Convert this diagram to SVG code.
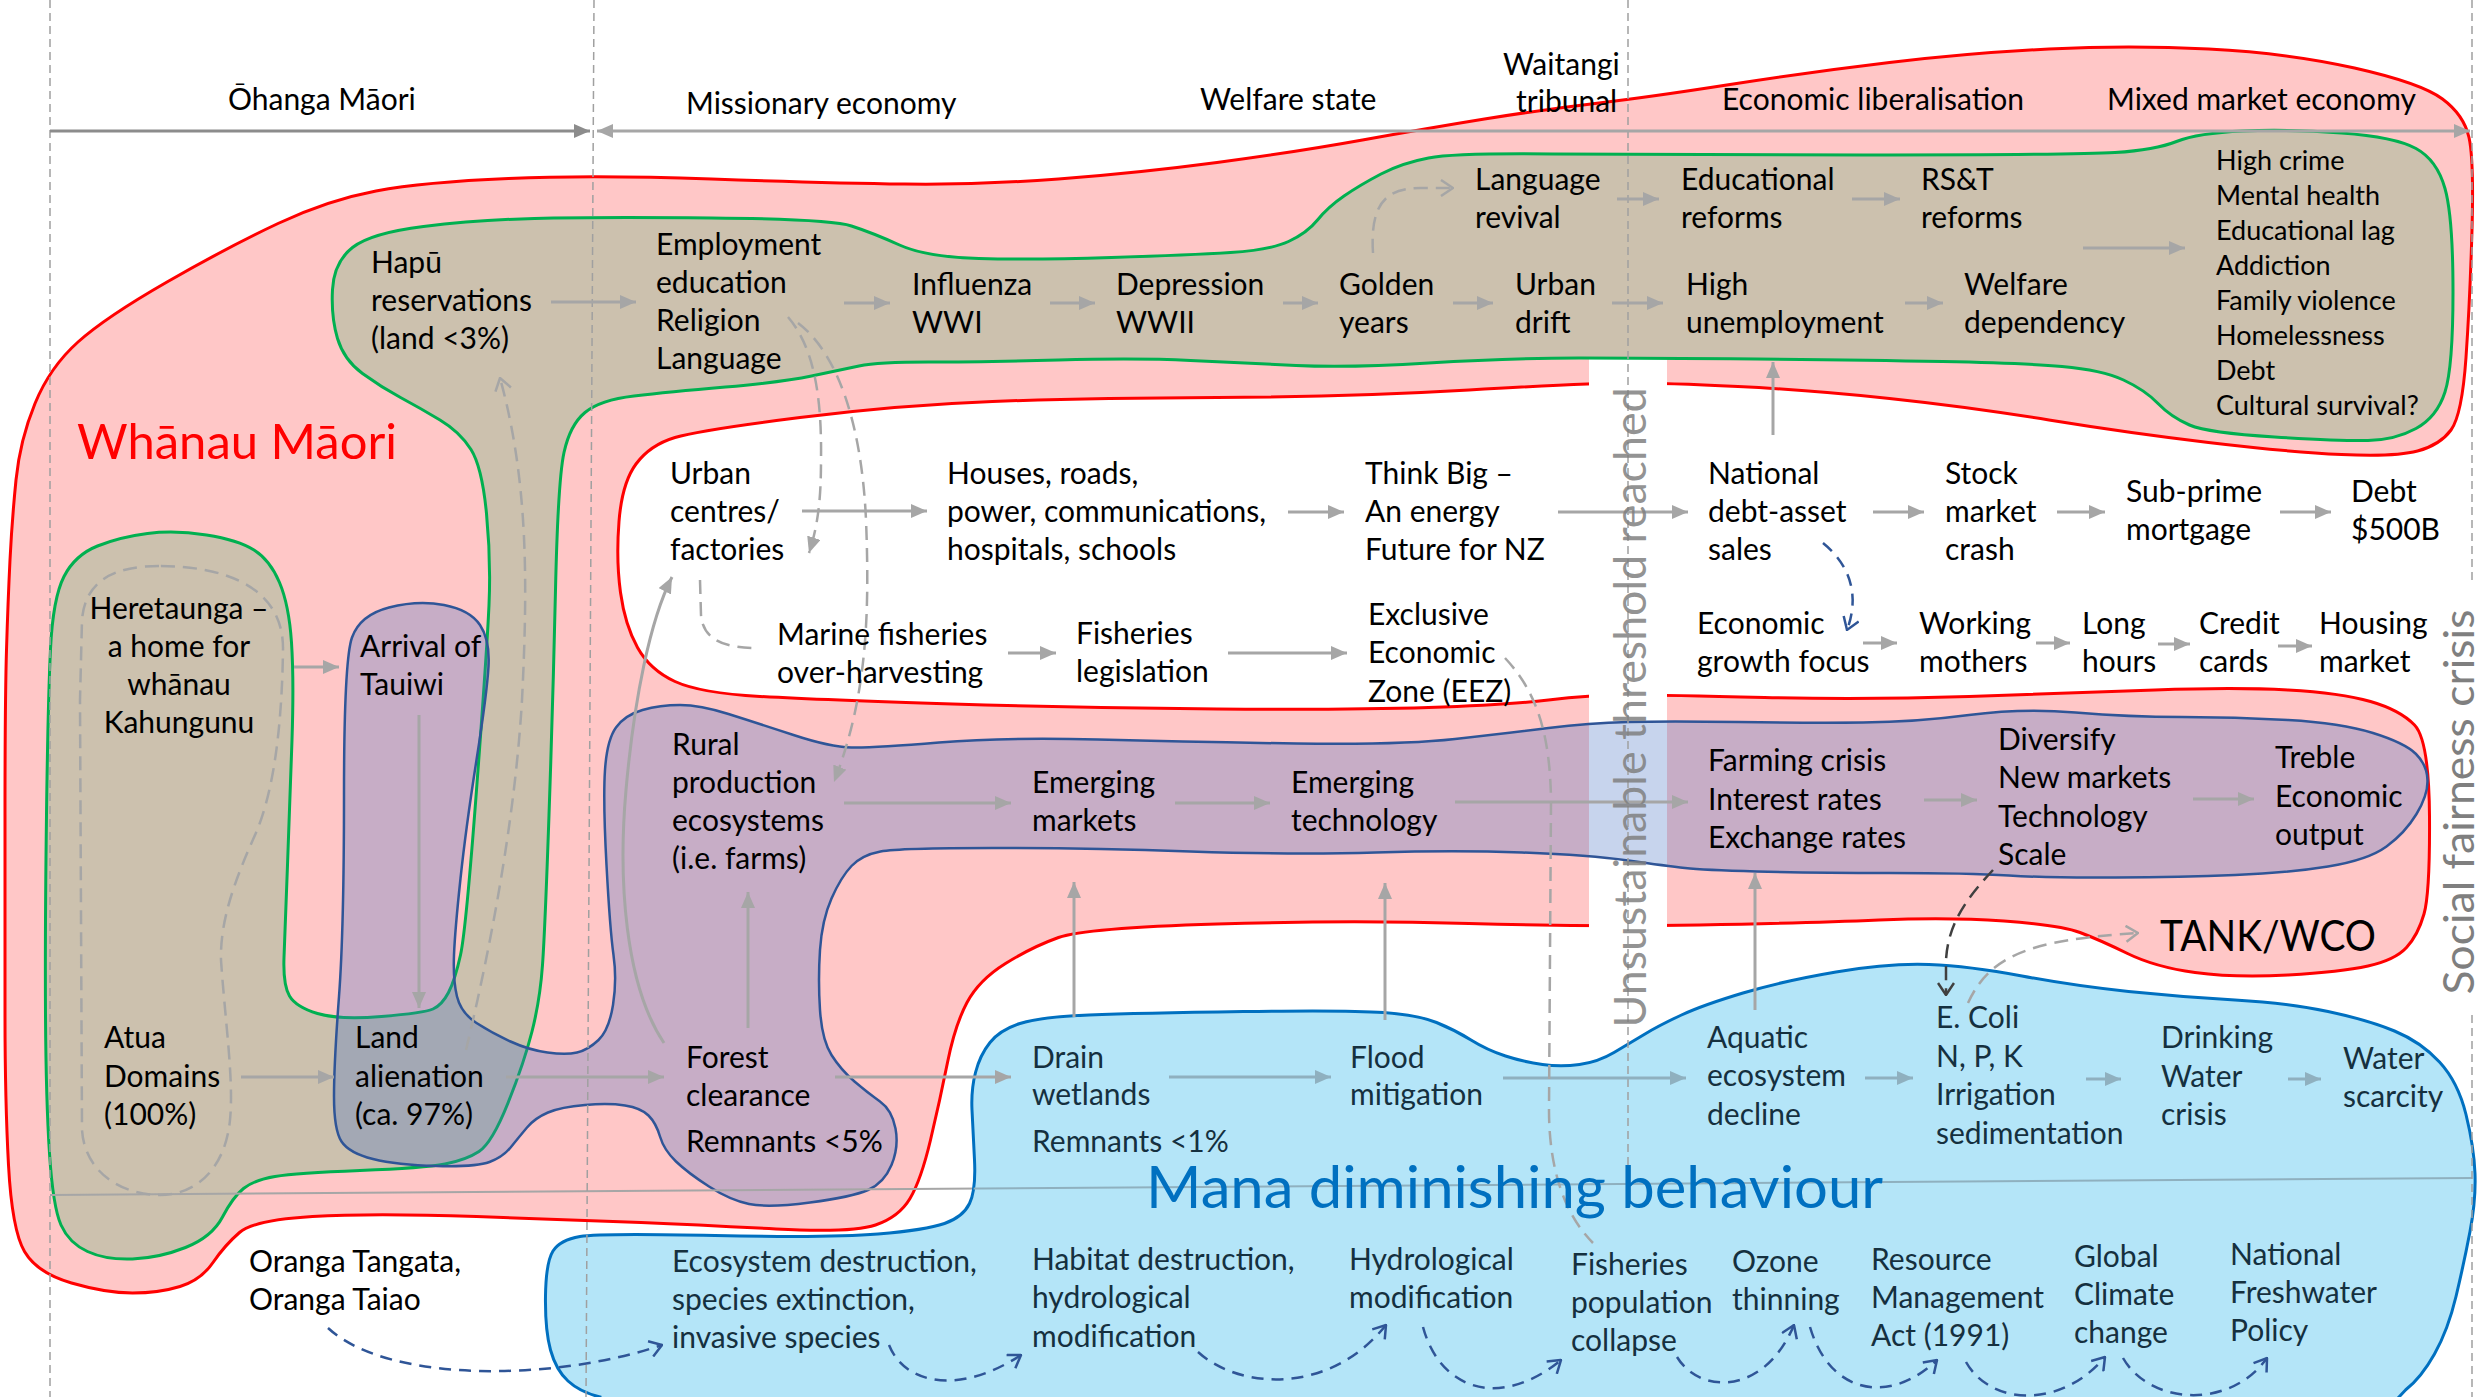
<svg xmlns="http://www.w3.org/2000/svg" width="2484" height="1397" viewBox="0 0 2484 1397">
<defs>
<style>
.t{font-family:Lato,'Open Sans','DejaVu Sans',sans-serif;font-size:30px;fill:#000}
.nv{fill:#15303f}
.sm{font-size:27px}
.ar{stroke:#a6a6a6;stroke-width:3;fill:none;marker-end:url(#ah)}
.arb{stroke:#8fb0bf;stroke-width:3;fill:none;marker-end:url(#ahb)}
.dg{stroke:#a6a6a6;stroke-width:2.5;fill:none;stroke-dasharray:14 8}
.db{stroke:#2f5597;stroke-width:2.5;fill:none;stroke-dasharray:12 8;marker-end:url(#vb)}
.vd{stroke:#a0a0a0;stroke-width:1.5;stroke-dasharray:8 5;fill:none}
</style>
<marker id="ah" viewBox="0 0 16 14" refX="16" refY="7" markerWidth="16" markerHeight="14" markerUnits="userSpaceOnUse" orient="auto"><path d="M0,0L16,7L0,14z" fill="#a6a6a6"/></marker>
<marker id="ahb" viewBox="0 0 16 14" refX="16" refY="7" markerWidth="16" markerHeight="14" markerUnits="userSpaceOnUse" orient="auto"><path d="M0,0L16,7L0,14z" fill="#8fb0bf"/></marker>
<marker id="ahd" viewBox="0 0 16 14" refX="16" refY="7" markerWidth="16" markerHeight="14" markerUnits="userSpaceOnUse" orient="auto"><path d="M0,0L16,7L0,14z" fill="#8c8c8c"/></marker>
<marker id="ahs" viewBox="0 0 16 14" refX="16" refY="7" markerWidth="16" markerHeight="14" markerUnits="userSpaceOnUse" orient="auto-start-reverse"><path d="M0,0L16,7L0,14z" fill="#a6a6a6"/></marker>
<marker id="vg" viewBox="0 0 14 18" refX="13" refY="9" markerWidth="14" markerHeight="18" markerUnits="userSpaceOnUse" orient="auto"><path d="M1,1L13,9L1,17" fill="none" stroke="#a6a6a6" stroke-width="2.5"/></marker>
<marker id="vb" viewBox="0 0 14 18" refX="13" refY="9" markerWidth="14" markerHeight="18" markerUnits="userSpaceOnUse" orient="auto"><path d="M1,1L13,9L1,17" fill="none" stroke="#2f5597" stroke-width="2.5"/></marker>
<marker id="vk" viewBox="0 0 14 18" refX="13" refY="9" markerWidth="14" markerHeight="18" markerUnits="userSpaceOnUse" orient="auto"><path d="M1,1L13,9L1,17" fill="none" stroke="#404040" stroke-width="2.5"/></marker>
<path id="bp" d="M600,1397 Q580,1392 568,1381 Q556,1370 550.5,1350 Q545,1330 545.5,1296 Q546,1262 553,1251 Q560,1240 580,1236.5 Q600,1233 715,1235.5 Q830,1238 878,1234 Q926,1230 944.5,1223.5 Q963,1217 969.5,1203.5 Q976,1190 974.5,1160 Q973,1130 972,1110 Q971,1090 975.5,1072.5 Q980,1055 990,1042.5 Q1000,1030 1020,1023.5 Q1040,1017 1089,1015 Q1138,1013 1243.5,1011.5 Q1349,1010 1383.5,1012.5 Q1418,1015 1436.5,1022.5 Q1455,1030 1471,1040 Q1487,1050 1505.5,1056 Q1524,1062 1542.5,1064.5 Q1561,1067 1579.5,1064.5 Q1598,1062 1614,1052.5 Q1630,1043 1645,1034 Q1660,1025 1681.5,1015 Q1703,1005 1743,993 Q1783,981 1836,972 Q1889,963 1929,964.5 Q1969,966 2022,976 Q2075,986 2128.5,991.5 Q2182,997 2235,1000 Q2288,1003 2328,1011.5 Q2368,1020 2394.5,1031 Q2421,1042 2439.5,1062 Q2458,1082 2466,1114.5 Q2474,1147 2475,1173.5 Q2476,1200 2470,1231.5 Q2464,1263 2456,1296.5 Q2448,1330 2434.5,1354 Q2421,1378 2405.5,1390 L2385,1412 L600,1412 Z"/>
<clipPath id="bclip"><use href="#bp"/></clipPath>
</defs>
<rect width="2484" height="1397" fill="#fff"/>

<g id="whanau-maori-region">
<path fill="#ffc7c7" stroke="#ff0000" stroke-width="3" d="M5,1015 Q5,930 5,815 Q5,700 6.5,650 Q8,600 10,560 Q12,520 16,480 Q20,440 35,403.5 Q50,367 78,342 Q106,317 167,282 Q228,247 278,223.5 Q328,200 376,191 Q424,182 508.5,178.5 Q593,175 711.5,179 Q830,183 904.5,184 Q979,185 1058.5,179 Q1138,173 1217,162.5 Q1296,152 1362.5,140 Q1429,128 1484.5,119 Q1540,110 1595,103.5 Q1650,97 1730,84.5 Q1810,72 1889.5,62.5 Q1969,53 2049,49 Q2129,45 2208.5,49 Q2288,53 2354.5,68 Q2421,83 2442.5,99 Q2464,115 2469,137.5 Q2474,160 2472,230 Q2470,300 2466,357.5 Q2462,415 2451,430 Q2440,445 2417.5,451 Q2395,457 2341.5,454.5 Q2288,452 2208.5,442.5 Q2129,433 2049,420 Q1969,407 1889.5,398.5 Q1810,390 1738,386.5 Q1666,383 1627.5,383 Q1589,383 1469,390 Q1349,397 1217,397.5 Q1085,398 992.5,401.5 Q900,405 800,417.5 Q700,430 675,437.5 Q650,445 636,464 Q622,483 619,521.5 Q616,560 620.5,592.5 Q625,625 637.5,647.5 Q650,670 675,681.5 Q700,693 760,696.5 Q820,700 952.5,704 Q1085,708 1217,709 Q1349,710 1428.5,707.5 Q1508,705 1548.5,700 Q1589,695 1627.5,695 Q1666,695 1764.5,697.5 Q1863,700 1969,696.5 Q2075,693 2155,690 Q2235,687 2288,690 Q2341,693 2370.5,701.5 Q2400,710 2414.5,725 Q2429,740 2429.5,816.5 Q2430,893 2424,914 Q2418,935 2406.5,947.5 Q2395,960 2368,966 Q2341,972 2288,975 Q2235,978 2195,972.5 Q2155,967 2127.5,953.5 Q2100,940 2080,932.5 Q2060,925 2004,921 Q1948,917 1879,920 Q1810,923 1699.5,925 Q1589,927 1469,923.5 Q1349,920 1217,924 Q1085,928 1058.5,937.5 Q1032,947 1005.5,963.5 Q979,980 967,1002.5 Q955,1025 947.5,1062.5 Q940,1100 930.5,1140 Q921,1180 910,1198.5 Q899,1217 875.5,1225 Q852,1233 776,1229 Q700,1225 641,1222.5 Q582,1220 476.5,1216.5 Q371,1213 312.5,1216.5 Q254,1220 239.5,1232.5 Q225,1245 213,1262.5 Q201,1280 180,1286.5 Q159,1293 132.5,1293 Q106,1293 71.5,1283 Q37,1273 24.5,1251.5 Q12,1230 8.5,1165 Q5,1100 5,1015 Z"/>
<rect x="1589" y="358" width="78" height="578" fill="#fff"/>
</g>

<g id="tan-region">
<path fill="#ccc1ae" stroke="#00b050" stroke-width="3" d="M337.5,338.5 Q331,317 332.5,289.5 Q334,262 352.5,247.5 Q371,233 423.5,226.5 Q476,220 534.5,218.5 Q593,217 711.5,218 Q830,219 851.5,226 Q873,233 899.5,245 Q926,257 979,258.5 Q1032,260 1111.5,257.5 Q1191,255 1230.5,252.5 Q1270,250 1288.5,241.5 Q1307,233 1317.5,220 Q1328,207 1344,196 Q1360,185 1381,174 Q1402,163 1428.5,158 Q1455,153 1552.5,154 Q1650,155 1862.5,155 Q2075,155 2115,152.5 Q2155,150 2176.5,141.5 Q2198,133 2243,131 Q2288,129 2341.5,133 Q2395,137 2416,148.5 Q2437,160 2445,188.5 Q2453,217 2453,292 Q2453,367 2445,392 Q2437,417 2416,428.5 Q2395,440 2368,440.5 Q2341,441 2274.5,437 Q2208,433 2189.5,425 Q2171,417 2158,403.5 Q2145,390 2123.5,380 Q2102,370 2062,366.5 Q2022,363 1942.5,361.5 Q1863,360 1756.5,359 Q1650,358 1579,358 Q1508,358 1428.5,363 Q1349,368 1296,365.5 Q1243,363 1190.5,360.5 Q1138,358 1058.5,360 Q979,362 928.5,362 Q878,362 859,366 Q840,370 811.5,376 Q783,382 725.5,387 Q668,392 634,396 Q600,400 585,412.5 Q570,425 564,452.5 Q558,480 555.5,590 Q553,700 549,815 Q545,930 542.5,965 Q540,1000 532,1031.5 Q524,1063 508,1103 Q492,1143 479,1151.5 Q466,1160 445,1164 Q424,1168 360,1170.5 Q296,1173 275,1176.5 Q254,1180 243.5,1188.5 Q233,1197 222.5,1217 Q212,1237 185.5,1247.5 Q159,1258 132.5,1259 Q106,1260 87.5,1251.5 Q69,1243 61,1225 Q53,1207 49.5,1153.5 Q46,1100 45.5,1015 Q45,930 46.5,815 Q48,700 50.5,649 Q53,598 64,576.5 Q75,555 97.5,546 Q120,537 147.5,533.5 Q175,530 206.5,535 Q238,540 254,550 Q270,560 279.5,582.5 Q289,605 291.5,642.5 Q294,680 292,740 Q290,800 287.5,865 Q285,930 284,957.5 Q283,985 289.5,996 Q296,1007 317.5,1013.5 Q339,1020 381.5,1016.5 Q424,1013 433,1009 Q442,1005 448.5,992.5 Q455,980 460.5,955 Q466,930 476.5,790 Q487,650 489,605 Q491,560 486.5,513.5 Q482,467 471,449.5 Q460,432 440,420 Q420,408 400.5,397.5 Q381,387 362.5,373.5 Q344,360 337.5,338.5 Z"/>
</g>

<g id="purple-region">
<path fill="#4472c4" fill-opacity="0.3" stroke="#2f5597" stroke-width="2.5" d="M389,607.5 Q418,600 444,605 Q470,610 480,625 Q490,640 488.5,666.5 Q487,693 476.5,760 Q466,827 460.5,878.5 Q455,930 454,955 Q453,980 457,996.5 Q461,1013 476.5,1023 Q492,1033 510.5,1041.5 Q529,1050 547.5,1052.5 Q566,1055 577,1052.5 Q588,1050 598.5,1040 Q609,1030 613,1005 Q617,980 613.5,955 Q610,930 606.5,865 Q603,800 605,770 Q607,740 616,727.5 Q625,715 642.5,710 Q660,705 680,705 Q700,705 728.5,714 Q757,723 793.5,735 Q830,747 851.5,747.5 Q873,748 939,742.5 Q1005,737 1098,739.5 Q1191,742 1296.5,743.5 Q1402,745 1455,739 Q1508,733 1548.5,728 Q1589,723 1628,722 Q1667,721 1738.5,722 Q1810,723 1863,722.5 Q1916,722 1969,715 Q2022,708 2075.5,712.5 Q2129,717 2182,717 Q2235,717 2288,720 Q2341,723 2373,733 Q2405,743 2416,754 Q2427,765 2427.5,780 Q2428,795 2416.5,814 Q2405,833 2386.5,846.5 Q2368,860 2328,866.5 Q2288,873 2235,875 Q2182,877 2115.5,877.5 Q2049,878 2009,875.5 Q1969,873 1889.5,873 Q1810,873 1756.5,871.5 Q1703,870 1685,868 Q1667,866 1628,860.5 Q1589,855 1522,852.5 Q1455,850 1375.5,852.5 Q1296,855 1190.5,851.5 Q1085,848 992,848 Q899,848 880.5,851.5 Q862,855 851.5,866 Q841,877 831.5,898.5 Q822,920 820,950 Q818,980 820,1010 Q822,1040 831.5,1055 Q841,1070 854.5,1081.5 Q868,1093 880,1101.5 Q892,1110 895.5,1128.5 Q899,1147 891.5,1165 Q884,1183 868,1190 Q852,1197 810,1202.5 Q768,1208 749,1204 Q730,1200 709,1186.5 Q688,1173 676,1161.5 Q664,1150 660,1136.5 Q656,1123 648.5,1115.5 Q641,1108 625,1105.5 Q609,1103 585,1105 Q561,1107 548,1112.5 Q535,1118 527,1127.5 Q519,1137 511,1147 Q503,1157 489.5,1162 Q476,1167 436.5,1166 Q397,1165 373,1159 Q349,1153 341.5,1141.5 Q334,1130 334,1096.5 Q334,1063 339,996.5 Q344,930 344,795 Q344,660 352,637.5 Q360,615 389,607.5 Z"/>
</g>

<g id="divider-line">
<path d="M50,1195 L2472,1178" stroke="#a6a6a6" stroke-width="2" fill="none"/>
</g>

<g id="mana-region">
<use href="#bp" fill="#b4e5f8" stroke="#0070c0" stroke-width="3"/>
<path d="M50,1195 L2472,1178" stroke="#8fb0bf" stroke-width="2" fill="none" clip-path="url(#bclip)"/>
</g>

<g id="era-dividers">
<path class="vd" d="M50,0 V1397"/>
<path class="vd" d="M594,0 L586,1397"/>
<path class="vd" d="M1628,0 V1192"/>
<path class="vd" d="M2472,0 V583 M2472,1015 V1397"/>
</g>

<g id="timeline">
<path d="M50,131 H590" stroke="#8c8c8c" stroke-width="3" marker-end="url(#ahd)"/>
<path d="M597,131 H2470" stroke="#a6a6a6" stroke-width="3" marker-start="url(#ahs)" marker-end="url(#ahs)"/>
</g>

<g id="connectors">
<path class="ar" d="M551,302 H636"/>
<path class="ar" d="M844,303 H890"/>
<path class="ar" d="M1050,303 H1095"/>
<path class="ar" d="M1283,303 H1318"/>
<path class="ar" d="M1453,303 H1493"/>
<path class="ar" d="M1612,303 H1663"/>
<path class="ar" d="M1617,199 H1659"/>
<path class="ar" d="M1852,199 H1900"/>
<path class="ar" d="M1905,303 H1943"/>
<path class="ar" d="M2083,248 H2185"/>
<path class="ar" d="M1773,435 V362"/>
<path class="ar" d="M802,511 H927"/>
<path class="ar" d="M1288,512 H1344"/>
<path class="ar" d="M1558,512 H1688"/>
<path class="ar" d="M1873,512 H1924"/>
<path class="ar" d="M2057,512 H2105"/>
<path class="ar" d="M2280,512 H2331"/>
<path class="ar" d="M1863,643 H1897"/>
<path class="ar" d="M2036,643 H2070"/>
<path class="ar" d="M2158,644 H2190"/>
<path class="ar" d="M2278,646 H2312"/>
<path class="ar" d="M1008,653 H1056"/>
<path class="ar" d="M1228,653 H1347"/>
<path class="ar" d="M294,667 H339"/>
<path class="ar" d="M419,715 V1008"/>
<path class="ar" d="M241,1077 H334"/>
<path class="ar" d="M506,1077 H664"/>
<path class="ar" d="M748,1028 V892"/>
<path class="ar" d="M664,1043 C625,985 618,880 626,790 C634,700 650,620 672,577"/>
<path class="ar" d="M844,803 H1011"/>
<path class="ar" d="M1175,803 H1270"/>
<path class="ar" d="M1455,802 H1688"/>
<path class="ar" d="M1924,800 H1977"/>
<path class="ar" d="M2193,799 H2254"/>
<path class="ar" d="M835,1077 H1011"/>
<path class="arb" d="M1169,1077 H1331"/>
<path class="arb" d="M1503,1078 H1686"/>
<path class="arb" d="M1865,1078 H1913"/>
<path class="arb" d="M2086,1079 H2121"/>
<path class="arb" d="M2288,1079 H2321"/>
<path class="ar" d="M1074,1017 V882"/>
<path class="ar" d="M1385,1020 V883"/>
<path class="ar" d="M1755,1010 V873"/>
<path class="dg" d="M788,317 C812,345 822,390 821,460 C821,500 818,525 809,553" marker-end="url(#ah)"/>
<path class="dg" d="M798,323 C840,355 862,430 866,520 C870,620 866,700 834,782" marker-end="url(#ah)"/>
<path class="dg" d="M466,1050 C490,950 515,820 522,700 C528,580 528,480 500,378" marker-end="url(#vg)"/>
<path class="dg" d="M159,566 C115,566 85,580 82,620 L80,700 L82,1130 C85,1175 125,1195 160,1195 C195,1195 225,1170 230,1120 C234,1080 225,1020 221,960 C220,920 235,880 255,835 C275,790 282,720 283,650 C284,590 230,566 159,566 Z"/>
<path class="dg" d="M1373,253 C1370,205 1385,188 1420,188 L1453,188" marker-end="url(#vg)"/>
<path class="dg" d="M700,580 L701,615 C703,640 725,648 756,648"/>
<path class="dg" d="M1505,658 C1535,690 1550,730 1551,800 L1549,1110 C1549,1170 1565,1215 1593,1243"/>
<path class="dg" d="M1968,1003 C1990,955 2030,940 2138,933" marker-end="url(#vg)"/>
<path d="M1993,870 C1965,900 1948,925 1946,960 L1946,995" stroke="#404040" stroke-width="2.5" fill="none" stroke-dasharray="14 8" marker-end="url(#vk)"/>
<path class="db" d="M1823,543 C1850,565 1860,595 1847,630"/>
<path class="db" d="M328,1328 C390,1385 560,1380 662,1345"/>
<path class="db" d="M889,1345 C905,1385 960,1395 1021,1355"/>
<path class="db" d="M1198,1352 C1240,1390 1330,1395 1386,1325"/>
<path class="db" d="M1423,1327 C1440,1390 1500,1410 1561,1360"/>
<path class="db" d="M1677,1357 C1700,1395 1765,1395 1794,1325"/>
<path class="db" d="M1810,1327 C1830,1395 1890,1405 1937,1360"/>
<path class="db" d="M1966,1362 C1990,1405 2060,1410 2105,1357"/>
<path class="db" d="M2123,1358 C2150,1405 2230,1410 2267,1358"/>
</g>

<g id="era-labels" class="t">
<text x="228" y="110">Ōhanga Māori</text>
<text x="686" y="114">Missionary economy</text>
<text x="1200" y="110">Welfare state</text>
<text x="1503" y="75">Waitangi</text>
<text x="1516" y="112">tribunal</text>
<text x="1722" y="110">Economic liberalisation</text>
<text x="2107" y="110">Mixed market economy</text>
</g>

<g id="big-labels">
<text x="77" y="459" font-family="Lato,'Open Sans',sans-serif" font-size="49" fill="#ff0000" textLength="320" lengthAdjust="spacingAndGlyphs">Whānau Māori</text>
<text x="1146" y="1208" font-family="Lato,'Open Sans',sans-serif" font-size="58" fill="#0070c0" textLength="737" lengthAdjust="spacingAndGlyphs">Mana diminishing behaviour</text>
<text x="2160" y="951" font-family="Lato,'Open Sans',sans-serif" font-size="43" fill="#000" textLength="216" lengthAdjust="spacingAndGlyphs">TANK/WCO</text>
<text transform="translate(1646,707.5) rotate(-90)" text-anchor="middle" font-family="Lato,'Open Sans',sans-serif" font-size="45" fill="#7f7f7f" fill-opacity="0.85" textLength="640" lengthAdjust="spacingAndGlyphs">Unsustainable threshold reached</text>
<text transform="translate(2474,802) rotate(-90)" text-anchor="middle" font-family="Lato,'Open Sans',sans-serif" font-size="42" fill="#7f7f7f" textLength="385" lengthAdjust="spacingAndGlyphs">Social fairness crisis</text>
</g>

<g id="n-hapu" class="t"><text><tspan x="371" y="273">Hapū</tspan><tspan x="371" y="311">reservations</tspan><tspan x="371" y="349">(land &lt;3%)</tspan></text></g>
<g id="n-employment" class="t"><text><tspan x="656" y="255">Employment</tspan><tspan x="656" y="293">education</tspan><tspan x="656" y="331">Religion</tspan><tspan x="656" y="369">Language</tspan></text></g>
<g id="n-influenza" class="t"><text><tspan x="912" y="295">Influenza</tspan><tspan x="912" y="333">WWI</tspan></text></g>
<g id="n-depression" class="t"><text><tspan x="1116" y="295">Depression</tspan><tspan x="1116" y="333">WWII</tspan></text></g>
<g id="n-golden" class="t"><text><tspan x="1339" y="295">Golden</tspan><tspan x="1339" y="333">years</tspan></text></g>
<g id="n-urban-drift" class="t"><text><tspan x="1515" y="295">Urban</tspan><tspan x="1515" y="333">drift</tspan></text></g>
<g id="n-language" class="t"><text><tspan x="1475" y="190">Language</tspan><tspan x="1475" y="228">revival</tspan></text></g>
<g id="n-educational" class="t"><text><tspan x="1681" y="190">Educational</tspan><tspan x="1681" y="228">reforms</tspan></text></g>
<g id="n-rst" class="t"><text><tspan x="1921" y="190">RS&amp;T</tspan><tspan x="1921" y="228">reforms</tspan></text></g>
<g id="n-high-unemployment" class="t"><text><tspan x="1686" y="295">High</tspan><tspan x="1686" y="333">unemployment</tspan></text></g>
<g id="n-welfare" class="t"><text><tspan x="1964" y="295">Welfare</tspan><tspan x="1964" y="333">dependency</tspan></text></g>
<g id="n-outcomes" class="t sm"><text><tspan x="2216" y="170">High crime</tspan><tspan x="2216" y="205">Mental health</tspan><tspan x="2216" y="240">Educational lag</tspan><tspan x="2216" y="275">Addiction</tspan><tspan x="2216" y="310">Family violence</tspan><tspan x="2216" y="345">Homelessness</tspan><tspan x="2216" y="380">Debt</tspan><tspan x="2216" y="415">Cultural survival?</tspan></text></g>

<g id="n-urban-centres" class="t"><text><tspan x="670" y="484">Urban</tspan><tspan x="670" y="522">centres/</tspan><tspan x="670" y="560">factories</tspan></text></g>
<g id="n-houses" class="t"><text><tspan x="947" y="484">Houses, roads,</tspan><tspan x="947" y="522">power, communications,</tspan><tspan x="947" y="560">hospitals, schools</tspan></text></g>
<g id="n-think-big" class="t"><text><tspan x="1365" y="484">Think Big –</tspan><tspan x="1365" y="522">An energy</tspan><tspan x="1365" y="560">Future for NZ</tspan></text></g>
<g id="n-national-debt" class="t"><text><tspan x="1708" y="484">National</tspan><tspan x="1708" y="522">debt-asset</tspan><tspan x="1708" y="560">sales</tspan></text></g>
<g id="n-stock" class="t"><text><tspan x="1945" y="484">Stock</tspan><tspan x="1945" y="522">market</tspan><tspan x="1945" y="560">crash</tspan></text></g>
<g id="n-subprime" class="t"><text><tspan x="2126" y="502">Sub-prime</tspan><tspan x="2126" y="540">mortgage</tspan></text></g>
<g id="n-debt" class="t"><text><tspan x="2351" y="502">Debt</tspan><tspan x="2351" y="540">$500B</tspan></text></g>
<g id="n-growth" class="t"><text><tspan x="1697" y="634">Economic</tspan><tspan x="1697" y="672">growth focus</tspan></text></g>
<g id="n-working" class="t"><text><tspan x="1919" y="634">Working</tspan><tspan x="1919" y="672">mothers</tspan></text></g>
<g id="n-long" class="t"><text><tspan x="2082" y="634">Long</tspan><tspan x="2082" y="672">hours</tspan></text></g>
<g id="n-credit" class="t"><text><tspan x="2199" y="634">Credit</tspan><tspan x="2199" y="672">cards</tspan></text></g>
<g id="n-housing" class="t"><text><tspan x="2319" y="634">Housing</tspan><tspan x="2319" y="672">market</tspan></text></g>
<g id="n-marine" class="t"><text><tspan x="777" y="645">Marine fisheries</tspan><tspan x="777" y="683">over-harvesting</tspan></text></g>
<g id="n-fisheries-leg" class="t"><text><tspan x="1076" y="644">Fisheries</tspan><tspan x="1076" y="682">legislation</tspan></text></g>
<g id="n-eez" class="t"><text><tspan x="1368" y="625">Exclusive</tspan><tspan x="1368" y="663">Economic</tspan><tspan x="1368" y="702">Zone (EEZ)</tspan></text></g>

<g id="n-heretaunga" class="t"><text text-anchor="middle"><tspan x="179" y="619">Heretaunga –</tspan><tspan x="179" y="657">a home for</tspan><tspan x="179" y="695">whānau</tspan><tspan x="179" y="733">Kahungunu</tspan></text></g>
<g id="n-tauiwi" class="t"><text><tspan x="360" y="657">Arrival of</tspan><tspan x="360" y="695">Tauiwi</tspan></text></g>
<g id="n-atua" class="t"><text><tspan x="104" y="1048">Atua</tspan><tspan x="104" y="1087">Domains</tspan><tspan x="104" y="1125">(100%)</tspan></text></g>
<g id="n-land" class="t"><text><tspan x="355" y="1048">Land</tspan><tspan x="355" y="1087">alienation</tspan><tspan x="355" y="1125">(ca. 97%)</tspan></text></g>
<g id="n-forest" class="t"><text><tspan x="686" y="1068">Forest</tspan><tspan x="686" y="1106">clearance</tspan><tspan x="686" y="1152">Remnants &lt;5%</tspan></text></g>
<g id="n-rural" class="t"><text><tspan x="672" y="755">Rural</tspan><tspan x="672" y="793">production</tspan><tspan x="672" y="831">ecosystems</tspan><tspan x="672" y="869">(i.e. farms)</tspan></text></g>
<g id="n-em-markets" class="t"><text><tspan x="1032" y="793">Emerging</tspan><tspan x="1032" y="831">markets</tspan></text></g>
<g id="n-em-tech" class="t"><text><tspan x="1291" y="793">Emerging</tspan><tspan x="1291" y="831">technology</tspan></text></g>
<g id="n-farming" class="t"><text><tspan x="1708" y="771">Farming crisis</tspan><tspan x="1708" y="810">Interest rates</tspan><tspan x="1708" y="848">Exchange rates</tspan></text></g>
<g id="n-diversify" class="t"><text><tspan x="1998" y="750">Diversify</tspan><tspan x="1998" y="788">New markets</tspan><tspan x="1998" y="827">Technology</tspan><tspan x="1998" y="865">Scale</tspan></text></g>
<g id="n-treble" class="t"><text><tspan x="2275" y="768">Treble</tspan><tspan x="2275" y="807">Economic</tspan><tspan x="2275" y="845">output</tspan></text></g>

<g id="n-drain" class="t nv"><text><tspan x="1032" y="1068">Drain</tspan><tspan x="1032" y="1105">wetlands</tspan><tspan x="1032" y="1152">Remnants &lt;1%</tspan></text></g>
<g id="n-flood" class="t nv"><text><tspan x="1350" y="1068">Flood</tspan><tspan x="1350" y="1105">mitigation</tspan></text></g>
<g id="n-aquatic" class="t nv"><text><tspan x="1707" y="1048">Aquatic</tspan><tspan x="1707" y="1086">ecosystem</tspan><tspan x="1707" y="1125">decline</tspan></text></g>
<g id="n-ecoli" class="t nv"><text><tspan x="1936" y="1028">E. Coli</tspan><tspan x="1936" y="1067">N, P, K</tspan><tspan x="1936" y="1105">Irrigation</tspan><tspan x="1936" y="1144">sedimentation</tspan></text></g>
<g id="n-drinking" class="t nv"><text><tspan x="2161" y="1048">Drinking</tspan><tspan x="2161" y="1087">Water</tspan><tspan x="2161" y="1125">crisis</tspan></text></g>
<g id="n-scarcity" class="t nv"><text><tspan x="2343" y="1069">Water</tspan><tspan x="2343" y="1107">scarcity</tspan></text></g>

<g id="n-oranga" class="t"><text><tspan x="249" y="1272">Oranga Tangata,</tspan><tspan x="249" y="1310">Oranga Taiao</tspan></text></g>
<g id="n-ecosystem" class="t nv"><text><tspan x="672" y="1272">Ecosystem destruction,</tspan><tspan x="672" y="1310">species extinction,</tspan><tspan x="672" y="1348">invasive species</tspan></text></g>
<g id="n-habitat" class="t nv"><text><tspan x="1032" y="1270">Habitat destruction,</tspan><tspan x="1032" y="1308">hydrological</tspan><tspan x="1032" y="1347">modification</tspan></text></g>
<g id="n-hydro" class="t nv"><text><tspan x="1349" y="1270">Hydrological</tspan><tspan x="1349" y="1308">modification</tspan></text></g>
<g id="n-fish-pop" class="t nv"><text><tspan x="1571" y="1275">Fisheries</tspan><tspan x="1571" y="1313">population</tspan><tspan x="1571" y="1351">collapse</tspan></text></g>
<g id="n-ozone" class="t nv"><text><tspan x="1732" y="1272">Ozone</tspan><tspan x="1732" y="1310">thinning</tspan></text></g>
<g id="n-rma" class="t nv"><text><tspan x="1871" y="1270">Resource</tspan><tspan x="1871" y="1308">Management</tspan><tspan x="1871" y="1346">Act (1991)</tspan></text></g>
<g id="n-climate" class="t nv"><text><tspan x="2074" y="1267">Global</tspan><tspan x="2074" y="1305">Climate</tspan><tspan x="2074" y="1343">change</tspan></text></g>
<g id="n-nps" class="t nv"><text><tspan x="2230" y="1265">National</tspan><tspan x="2230" y="1303">Freshwater</tspan><tspan x="2230" y="1341">Policy</tspan></text></g>
</svg>
